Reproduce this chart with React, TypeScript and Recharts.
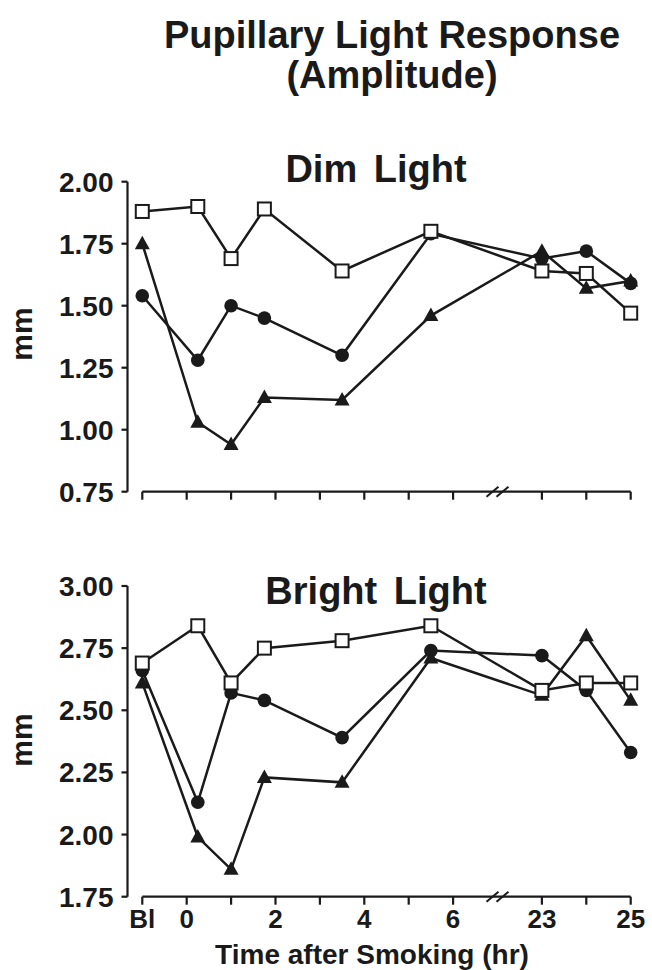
import React from "react";
import { Line, LineChart, ReferenceDot, ReferenceLine, XAxis, YAxis } from "recharts";

const FONT = "'Liberation Sans', Arial, Helvetica, sans-serif";
const INK = "#1a1a1a";

// sampling times (hr after smoking), "Bl" = baseline
const times: (string | number)[] = ["Bl", 0.25, 1, 1.75, 3.5, 5.5, 23, 24, 25];

const dimSquare = [1.88, 1.9, 1.69, 1.89, 1.64, 1.8, 1.64, 1.63, 1.47];
const dimCircle = [1.54, 1.28, 1.5, 1.45, 1.3, 1.79, 1.69, 1.72, 1.59];
const dimTriangle = [1.75, 1.03, 0.94, 1.13, 1.12, 1.46, 1.72, 1.57, 1.6];

const brightSquare = [2.69, 2.84, 2.61, 2.75, 2.78, 2.84, 2.58, 2.61, 2.61];
const brightCircle = [2.66, 2.13, 2.57, 2.54, 2.39, 2.74, 2.72, 2.58, 2.33];
const brightTriangle = [2.61, 1.99, 1.86, 2.23, 2.21, 2.71, 2.56, 2.8, 2.54];

const xTicks: (string | number)[] = ["Bl", 0, 1, 2, 3, 4, 5, 6, 23, 24, 25];
const xTickLabels = ["Bl", "0", "", "2", "", "4", "", "6", "23", "", "25"];
const dimTicks = [0.75, 1, 1.25, 1.5, 1.75, 2];
const brightTicks = [1.75, 2, 2.25, 2.5, 2.75, 3];

// broken time axis: baseline one slot left of 0, 23-25 hr right after the break
const pos = (t: string | number) => (t === "Bl" ? -1 : (t as number) <= 6 ? (t as number) : (t as number) - 15);
const breakPos = (pos(6) + pos(23)) / 2;
const tickPositions = xTicks.map(pos);
const labelFor = (v: number) => xTickLabels[tickPositions.indexOf(v)] ?? "";

const square = (p: any) => (
  <rect key={`s${p.index}`} x={p.cx - 6.5} y={p.cy - 6.5} width={13} height={13} fill="#fff" stroke={INK} strokeWidth={2} />
);
const circle = (p: any) => <circle key={`c${p.index}`} cx={p.cx} cy={p.cy} r={6.8} fill={INK} />;
const triangle = (p: any) => (
  <path key={`t${p.index}`} d={`M${p.cx},${p.cy - 8} L${p.cx + 7.5},${p.cy + 5.5} L${p.cx - 7.5},${p.cy + 5.5} Z`} fill={INK} />
);

const breakMark = (p: any) => (
  <g>
    {[-5, 5].map((d) => (
      <line key={d} x1={p.cx + d - 6} y1={p.cy + 5} x2={p.cx + d + 6} y2={p.cy - 5} stroke={INK} strokeWidth={2} />
    ))}
  </g>
);

function Panel({
  top,
  height,
  marginTop,
  axisHeight,
  domain,
  ticks,
  sq,
  ci,
  tr,
  labels,
}: {
  top: number;
  height: number;
  marginTop: number;
  axisHeight: number;
  domain: [number, number];
  ticks: number[];
  sq: number[];
  ci: number[];
  tr: number[];
  labels: boolean;
}) {
  const data = times.map((t, i) => ({ x: pos(t), square: sq[i], circle: ci[i], triangle: tr[i] }));
  const xTickStyle = { fill: INK, fontSize: 26, fontWeight: 700, fontFamily: FONT };
  const yTickStyle = { fill: INK, fontSize: 28, fontWeight: 700, fontFamily: FONT };
  return (
    <div style={{ position: "absolute", left: 0, top }}>
      <LineChart width={652} height={height} data={data} margin={{ top: marginTop, right: 21.3, left: 0, bottom: 0 }}>
        <XAxis
          dataKey="x"
          type="number"
          domain={[-1.333, 10]}
          ticks={tickPositions}
          interval={0}
          axisLine={false}
          tickLine={{ stroke: INK, strokeWidth: 2.2 }}
          tickSize={8}
          tickMargin={5}
          height={axisHeight}
          tick={xTickStyle}
          tickFormatter={(v: number) => (labels ? labelFor(v) : "")}
        />
        <YAxis
          type="number"
          domain={domain}
          ticks={ticks}
          interval={0}
          width={127.5}
          axisLine={{ stroke: INK, strokeWidth: 2.2 }}
          tickLine={{ stroke: INK, strokeWidth: 2.2 }}
          tickSize={6}
          tickMargin={8}
          tick={yTickStyle}
          tickFormatter={(v: number) => v.toFixed(2)}
        />
        <ReferenceLine
          segment={[
            { x: pos("Bl"), y: domain[0] },
            { x: pos(25), y: domain[0] },
          ]}
          stroke={INK}
          strokeWidth={2.2}
          ifOverflow="visible"
        />
        <ReferenceDot x={breakPos} y={domain[0]} ifOverflow="visible" shape={breakMark} />
        <Line type="linear" dataKey="triangle" stroke={INK} strokeWidth={2.5} dot={triangle} isAnimationActive={false} />
        <Line type="linear" dataKey="circle" stroke={INK} strokeWidth={2.5} dot={circle} isAnimationActive={false} />
        <Line type="linear" dataKey="square" stroke={INK} strokeWidth={2.5} dot={square} isAnimationActive={false} />
      </LineChart>
    </div>
  );
}

export default function App() {
  const txt = { fontFamily: FONT, fontWeight: 700, fill: INK } as const;
  return (
    <div style={{ position: "absolute", left: 0, top: 0, width: 652, height: 970, background: "#fff", overflow: "hidden" }}>
      <Panel
        top={0}
        height={520}
        marginTop={181.7}
        axisHeight={28.3}
        domain={[0.75, 2]}
        ticks={dimTicks}
        sq={dimSquare}
        ci={dimCircle}
        tr={dimTriangle}
        labels={false}
      />
      <Panel
        top={540}
        height={430}
        marginTop={46}
        axisHeight={73.3}
        domain={[1.75, 3]}
        ticks={brightTicks}
        sq={brightSquare}
        ci={brightCircle}
        tr={brightTriangle}
        labels
      />
      <svg width={652} height={970} style={{ position: "absolute", left: 0, top: 0, pointerEvents: "none" }}>
        <text x={392} y={48} textAnchor="middle" fontSize={38} {...txt}>
          Pupillary Light Response
        </text>
        <text x={392} y={88} textAnchor="middle" fontSize={38} {...txt}>
          (Amplitude)
        </text>
        <text x={376} y={182} textAnchor="middle" fontSize={38} wordSpacing={6} {...txt}>
          Dim Light
        </text>
        <text x={376} y={604} textAnchor="middle" fontSize={38} wordSpacing={6} {...txt}>
          Bright Light
        </text>
        <text x={32} y={334} textAnchor="middle" fontSize={30} transform="rotate(-90 32 334)" {...txt}>
          mm
        </text>
        <text x={32} y={740} textAnchor="middle" fontSize={30} transform="rotate(-90 32 740)" {...txt}>
          mm
        </text>
        <text x={372} y={964} textAnchor="middle" fontSize={28} {...txt}>
          Time after Smoking (hr)
        </text>
      </svg>
    </div>
  );
}
